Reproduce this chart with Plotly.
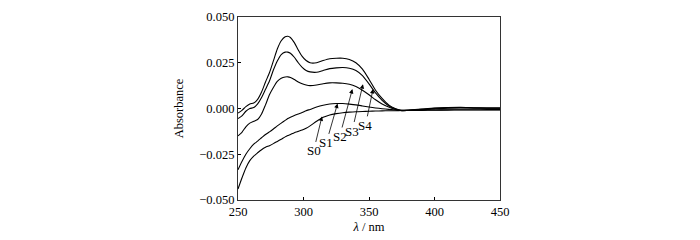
import plotly.graph_objects as go

# wavelength grid (nm)
wl = [250, 253, 256, 259, 262, 265, 268, 271, 274, 277, 280, 283, 286, 288, 290, 293, 296, 299, 302, 305,
      310, 315, 320, 325, 330, 335, 340, 345, 350, 355, 360, 365, 370, 375, 380, 390, 400, 410, 420, 430, 440, 450]

S4 = [-0.0025, -0.0010, 0.0010, 0.0025, 0.0030, 0.0050, 0.0090, 0.0145, 0.0195, 0.0260, 0.0325, 0.0370, 0.0392, 0.0395,
      0.0388, 0.0360, 0.0320, 0.0285, 0.0262, 0.0250, 0.0250, 0.0262, 0.0272, 0.0275, 0.0275, 0.0268, 0.0250, 0.0215,
      0.0160, 0.0100, 0.0055, 0.0020, 0.0000, -0.0010, -0.0008, -0.0003, 0.0002, 0.0005, 0.0006, 0.0004, 0.0003, 0.0003]
S3 = [-0.0055, -0.0040, -0.0015, 0.0000, 0.0005, 0.0025, 0.0060, 0.0105, 0.0150, 0.0210, 0.0260, 0.0295, 0.0308, 0.0308,
      0.0302, 0.0280, 0.0250, 0.0225, 0.0208, 0.0200, 0.0198, 0.0208, 0.0218, 0.0222, 0.0224, 0.0220, 0.0208, 0.0180,
      0.0135, 0.0085, 0.0045, 0.0015, -0.0003, -0.0012, -0.0010, -0.0005, 0.0001, 0.0004, 0.0005, 0.0003, 0.0002, 0.0002]
S2 = [-0.0150, -0.0130, -0.0100, -0.0080, -0.0070, -0.0060, -0.0030, 0.0020, 0.0075, 0.0115, 0.0148, 0.0165, 0.0172, 0.0173,
      0.0170, 0.0158, 0.0145, 0.0135, 0.0128, 0.0125, 0.0128, 0.0135, 0.0140, 0.0140, 0.0138, 0.0132, 0.0120, 0.0100,
      0.0075, 0.0048, 0.0025, 0.0008, -0.0005, -0.0012, -0.0011, -0.0007, -0.0002, 0.0002, 0.0003, 0.0002, 0.0001, 0.0001]
S1 = [-0.0335, -0.0290, -0.0250, -0.0220, -0.0195, -0.0178, -0.0160, -0.0142, -0.0128, -0.0112, -0.0095, -0.0080, -0.0065, -0.0055,
      -0.0048, -0.0038, -0.0030, -0.0022, -0.0012, -0.0005, 0.0008, 0.0018, 0.0025, 0.0027, 0.0027, 0.0024, 0.0020, 0.0014,
      0.0008, 0.0003, -0.0001, -0.0005, -0.0008, -0.0010, -0.0010, -0.0009, -0.0008, -0.0007, -0.0007, -0.0007, -0.0006, -0.0006]
S0 = [-0.0440, -0.0380, -0.0325, -0.0285, -0.0260, -0.0242, -0.0225, -0.0212, -0.0203, -0.0192, -0.0180, -0.0168, -0.0155, -0.0148,
      -0.0142, -0.0132, -0.0125, -0.0118, -0.0108, -0.0095, -0.0070, -0.0048, -0.0035, -0.0028, -0.0023, -0.0020, -0.0018, -0.0016,
      -0.0015, -0.0014, -0.0013, -0.0012, -0.0012, -0.0011, -0.0011, -0.0010, -0.0009, -0.0009, -0.0008, -0.0008, -0.0008, -0.0008]

series = [("S0", S0), ("S1", S1), ("S2", S2), ("S3", S3), ("S4", S4)]

# label text positions and arrow tips (data coords)
label_names = ["S0", "S1", "S2", "S3", "S4"]
label_x = [307.7, 317.4, 327.6, 337.1, 347.3]
label_y = [-0.0232, -0.0188, -0.0153, -0.0123, -0.0092]
tip_x = [314.1, 326.0, 337.3, 345.4, 353.1]
tip_y = [-0.0044, 0.0027, 0.0106, 0.0133, 0.0106]

x_ticks = [250, 300, 350, 400, 450]
y_ticks = [-0.050, -0.025, 0.000, 0.025, 0.050]

fig = go.Figure()
for name, vals in series:
    fig.add_trace(go.Scatter(x=wl, y=vals, mode="lines", name=name,
                             line=dict(color="black", width=1.1, shape="spline", smoothing=0.6),
                             showlegend=False, hoverinfo="skip"))

for n, lx, ly, tx, ty in zip(label_names, label_x, label_y, tip_x, tip_y):
    fig.add_annotation(x=tx, y=ty, ax=lx, ay=ly, axref="x", ayref="y", xref="x", yref="y",
                       text=n, showarrow=True, arrowhead=2, arrowsize=1.1, arrowwidth=0.8,
                       arrowcolor="black", standoff=0, startstandoff=0,
                       font=dict(family="Liberation Serif", size=13, color="black"))

fig.update_layout(
    width=700, height=240,
    margin=dict(l=230, r=208, t=9, b=48, autoexpand=False),
    plot_bgcolor="white", paper_bgcolor="white",
    font=dict(family="Liberation Serif", size=12.5, color="black"),
)
fig.update_xaxes(range=[250, 450], tickvals=x_ticks, ticks="inside", ticklen=3, tickcolor="black",
                 showline=True, linecolor="#333", linewidth=1.2, mirror=True, showgrid=False, zeroline=False,
                 ticklabeloverflow="allow",
                 title=dict(text="<i>λ</i> / nm", standoff=4, font=dict(size=12.5)))
fig.update_yaxes(range=[-0.050, 0.050], tickvals=y_ticks, tickformat=".3f", ticks="inside", ticklen=3,
                 tickcolor="black", showline=True, linecolor="#333", linewidth=1.2, mirror=True,
                 showgrid=False, zeroline=False, ticklabeloverflow="allow",
                 title=dict(text="Absorbance", standoff=12, font=dict(size=12.5)))

fig.write_html("out.html")
